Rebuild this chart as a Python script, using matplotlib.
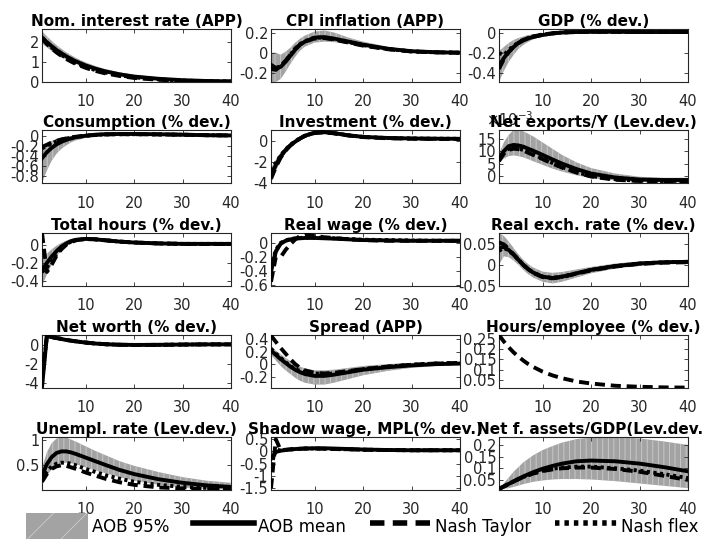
import numpy as np
import matplotlib
matplotlib.use("Agg")
import matplotlib.pyplot as plt
from matplotlib.patches import Patch
from matplotlib.lines import Line2D

plt.rcParams["font.family"] = ["DejaVu Sans"]
plt.rcParams["axes.unicode_minus"] = False
plt.rcParams["hatch.linewidth"] = 0.6

H = [1, 2, 3, 4, 5, 6, 7, 8, 10, 12, 14, 17, 20, 25, 30, 35, 40]

NOM_MEAN = [2.20, 1.97, 1.77, 1.58, 1.42, 1.27, 1.14, 1.02, 0.82, 0.66, 0.53, 0.38, 0.27, 0.16, 0.09, 0.05, 0.03]
NOM_HI = [2.51, 2.26, 2.03, 1.82, 1.64, 1.47, 1.33, 1.19, 0.97, 0.79, 0.64, 0.48, 0.35, 0.23, 0.15, 0.11, 0.08]
NOM_LO = [1.91, 1.71, 1.54, 1.37, 1.24, 1.10, 0.99, 0.89, 0.71, 0.57, 0.46, 0.33, 0.23, 0.14, 0.08, 0.04, 0.02]
NOM_TAYLOR = [2.15, 1.88, 1.66, 1.46, 1.29, 1.14, 1.01, 0.89, 0.70, 0.55, 0.43, 0.30, 0.20, 0.11, 0.05, 0.03, 0.02]
NOM_FLEX = [2.18, 1.92, 1.70, 1.51, 1.34, 1.19, 1.06, 0.94, 0.74, 0.59, 0.47, 0.33, 0.23, 0.13, 0.07, 0.04, 0.02]

CPI_MEAN = [-0.12, -0.15, -0.14, -0.09, -0.03, 0.03, 0.08, 0.11, 0.15, 0.155, 0.14, 0.11, 0.08, 0.04, 0.015, 0.005, 0.0]
CPI_HI = [0.0, 0.0, -0.02, 0.01, 0.05, 0.10, 0.14, 0.17, 0.21, 0.22, 0.20, 0.15, 0.11, 0.06, 0.025, 0.01, 0.005]
CPI_LO = [-0.29, -0.29, -0.26, -0.19, -0.11, -0.04, 0.02, 0.06, 0.10, 0.11, 0.105, 0.085, 0.06, 0.03, 0.01, 0.0, -0.005]
CPI_TAYLOR = [-0.16, -0.17, -0.13, -0.08, -0.02, 0.04, 0.08, 0.11, 0.14, 0.145, 0.13, 0.10, 0.07, 0.035, 0.012, 0.004, 0.0]
CPI_FLEX = [-0.14, -0.16, -0.13, -0.08, -0.02, 0.04, 0.085, 0.115, 0.15, 0.15, 0.135, 0.105, 0.075, 0.037, 0.013, 0.004, 0.0]

GDP_MEAN = [-0.33, -0.25, -0.19, -0.14, -0.10, -0.075, -0.055, -0.04, -0.02, -0.005, 0.005, 0.01, 0.012, 0.012, 0.01, 0.01, 0.01]
GDP_HI = [-0.18, -0.14, -0.10, -0.07, -0.05, -0.035, -0.02, -0.015, -0.005, 0.005, 0.012, 0.018, 0.02, 0.02, 0.018, 0.017, 0.017]
GDP_LO = [-0.49, -0.38, -0.29, -0.22, -0.16, -0.12, -0.09, -0.065, -0.035, -0.015, -0.003, 0.003, 0.005, 0.005, 0.004, 0.003, 0.003]
GDP_TAYLOR = [-0.36, -0.26, -0.19, -0.14, -0.10, -0.07, -0.05, -0.035, -0.015, -0.003, 0.006, 0.01, 0.012, 0.012, 0.01, 0.01, 0.01]
GDP_FLEX = [-0.20, -0.22, -0.17, -0.13, -0.095, -0.07, -0.05, -0.037, -0.017, -0.004, 0.005, 0.01, 0.012, 0.012, 0.01, 0.01, 0.01]

CONS_MEAN = [-0.45, -0.33, -0.24, -0.17, -0.12, -0.08, -0.05, -0.025, 0.005, 0.025, 0.035, 0.04, 0.04, 0.035, 0.025, 0.015, 0.01]
CONS_HI = [-0.20, -0.14, -0.10, -0.06, -0.035, -0.015, 0.0, 0.01, 0.03, 0.045, 0.055, 0.06, 0.06, 0.055, 0.045, 0.035, 0.03]
CONS_LO = [-0.95, -0.70, -0.50, -0.36, -0.26, -0.19, -0.13, -0.09, -0.04, -0.01, 0.005, 0.015, 0.015, 0.015, 0.01, 0.0, -0.005]
CONS_TAYLOR = [-0.22, -0.18, -0.13, -0.10, -0.07, -0.05, -0.03, -0.015, 0.005, 0.02, 0.03, 0.035, 0.035, 0.03, 0.025, 0.015, 0.01]
CONS_FLEX = [-0.25, -0.20, -0.15, -0.11, -0.08, -0.055, -0.035, -0.02, 0.002, 0.02, 0.03, 0.035, 0.035, 0.03, 0.025, 0.015, 0.01]

INV_MEAN = [-3.3, -2.3, -1.5, -0.9, -0.45, -0.1, 0.2, 0.45, 0.75, 0.8, 0.7, 0.5, 0.35, 0.25, 0.2, 0.18, 0.17]
INV_HI = [-2.6, -1.8, -1.1, -0.6, -0.2, 0.1, 0.4, 0.65, 0.95, 1.0, 0.88, 0.65, 0.48, 0.35, 0.3, 0.27, 0.26]
INV_LO = [-4.0, -2.9, -1.9, -1.2, -0.7, -0.3, 0.0, 0.25, 0.55, 0.6, 0.55, 0.38, 0.25, 0.16, 0.12, 0.1, 0.1]
INV_TAYLOR = [-3.6, -2.5, -1.6, -0.95, -0.45, -0.1, 0.2, 0.45, 0.72, 0.78, 0.68, 0.48, 0.33, 0.22, 0.18, 0.16, 0.15]
INV_FLEX = [-2.8, -2.1, -1.4, -0.85, -0.4, -0.05, 0.22, 0.46, 0.74, 0.8, 0.7, 0.5, 0.35, 0.24, 0.2, 0.18, 0.17]

# net exports in units of 1e-3
NX_MEAN = [7, 10, 12, 12.5, 12.3, 11.8, 11, 10.2, 8.5, 6.7, 5, 2.8, 1.0, -0.6, -1.4, -1.6, -1.6]
NX_HI = [9, 13.5, 16.5, 18.5, 18.5, 18, 17, 16, 13.5, 11, 8.5, 5.5, 3.2, 1, -0.3, -0.7, -0.7]
NX_LO = [5.5, 7, 8, 8.3, 8, 7.5, 6.8, 6, 4.5, 3, 1.8, 0.3, -0.8, -1.8, -2.3, -2.5, -2.6]
NX_TAYLOR = [6, 9, 10.5, 11, 10.8, 10.2, 9.4, 8.5, 6.8, 5, 3.4, 1.4, -0.2, -1.5, -2.0, -2.1, -2.0]
NX_FLEX = [6.5, 9.5, 11, 11.3, 11, 10.5, 9.7, 8.8, 7, 5.3, 3.6, 1.6, 0, -1.3, -1.9, -2.0, -1.9]

HRS_MEAN = [-0.28, -0.20, -0.13, -0.07, -0.02, 0.015, 0.04, 0.055, 0.065, 0.06, 0.05, 0.035, 0.025, 0.015, 0.01, 0.01, 0.01]
HRS_HI = [-0.15, -0.10, -0.05, -0.01, 0.02, 0.045, 0.065, 0.075, 0.08, 0.075, 0.065, 0.05, 0.035, 0.025, 0.018, 0.016, 0.016]
HRS_LO = [-0.455, -0.33, -0.22, -0.13, -0.06, -0.015, 0.015, 0.035, 0.05, 0.05, 0.04, 0.025, 0.015, 0.008, 0.004, 0.003, 0.003]
HRS_TAYLOR = [0.13, -0.30, -0.22, -0.12, -0.05, 0.0, 0.03, 0.05, 0.065, 0.06, 0.05, 0.035, 0.025, 0.015, 0.01, 0.008, 0.008]
HRS_FLEX = [-0.30, -0.25, -0.17, -0.10, -0.04, 0.005, 0.035, 0.05, 0.063, 0.06, 0.05, 0.035, 0.025, 0.015, 0.01, 0.01, 0.01]

RW_MEAN = [-0.40, -0.12, -0.01, 0.03, 0.05, 0.06, 0.065, 0.07, 0.07, 0.065, 0.06, 0.05, 0.04, 0.035, 0.03, 0.03, 0.03]
RW_HI = [-0.25, -0.05, 0.02, 0.05, 0.07, 0.08, 0.085, 0.09, 0.09, 0.085, 0.08, 0.065, 0.055, 0.045, 0.04, 0.04, 0.04]
RW_LO = [-0.61, -0.20, -0.05, 0.0, 0.02, 0.035, 0.045, 0.05, 0.05, 0.05, 0.045, 0.035, 0.03, 0.025, 0.02, 0.02, 0.02]
RW_TAYLOR = [-0.55, -0.20, -0.20, -0.10, -0.02, 0.05, 0.10, 0.12, 0.10, 0.08, 0.07, 0.05, 0.04, 0.03, 0.03, 0.03, 0.03]
RW_FLEX = [-0.35, -0.10, 0.0, 0.035, 0.055, 0.065, 0.07, 0.075, 0.075, 0.07, 0.065, 0.055, 0.045, 0.04, 0.035, 0.03, 0.03]

RER_MEAN = [0.04, 0.042, 0.035, 0.024, 0.012, 0.0, -0.01, -0.018, -0.028, -0.031, -0.028, -0.02, -0.012, -0.003, 0.003, 0.006, 0.007]
RER_HI = [0.075, 0.068, 0.055, 0.04, 0.025, 0.012, 0.002, -0.006, -0.016, -0.019, -0.017, -0.011, -0.005, 0.003, 0.008, 0.01, 0.011]
RER_LO = [0.0, 0.02, 0.018, 0.01, 0.0, -0.012, -0.022, -0.03, -0.04, -0.044, -0.04, -0.03, -0.02, -0.009, -0.002, 0.002, 0.003]
RER_TAYLOR = [0.053, 0.048, 0.038, 0.025, 0.012, 0.0, -0.01, -0.019, -0.029, -0.032, -0.029, -0.021, -0.013, -0.004, 0.002, 0.005, 0.006]
RER_FLEX = [0.033, 0.04, 0.034, 0.024, 0.012, 0.0, -0.01, -0.018, -0.028, -0.031, -0.028, -0.02, -0.012, -0.003, 0.003, 0.006, 0.007]

NW_MEAN = [-4.5, 0.95, 0.85, 0.75, 0.65, 0.55, 0.47, 0.40, 0.27, 0.17, 0.10, 0.04, 0.02, 0.03, 0.06, 0.08, 0.08]
NW_HI = [-4.3, 1.05, 0.95, 0.85, 0.75, 0.65, 0.57, 0.50, 0.37, 0.27, 0.20, 0.14, 0.12, 0.13, 0.16, 0.18, 0.18]
NW_LO = [-4.57, 0.85, 0.75, 0.65, 0.55, 0.45, 0.37, 0.30, 0.17, 0.07, 0.0, -0.06, -0.08, -0.07, -0.04, -0.02, -0.02]
NW_TAYLOR = [-3.5, 1.0, 0.88, 0.77, 0.67, 0.57, 0.48, 0.41, 0.28, 0.18, 0.10, 0.04, 0.02, 0.03, 0.06, 0.08, 0.08]
NW_FLEX = [-4.0, 0.97, 0.86, 0.76, 0.66, 0.56, 0.47, 0.40, 0.27, 0.17, 0.10, 0.04, 0.02, 0.03, 0.06, 0.08, 0.08]

SPR_MEAN = [0.22, 0.15, 0.08, 0.02, -0.04, -0.09, -0.13, -0.16, -0.19, -0.19, -0.17, -0.13, -0.09, -0.05, -0.02, 0.0, 0.01]
SPR_HI = [0.28, 0.22, 0.16, 0.10, 0.05, 0.0, -0.04, -0.07, -0.10, -0.10, -0.09, -0.06, -0.03, 0.0, 0.02, 0.03, 0.035]
SPR_LO = [0.15, 0.06, -0.03, -0.10, -0.16, -0.22, -0.27, -0.30, -0.33, -0.33, -0.30, -0.24, -0.18, -0.11, -0.06, -0.03, -0.02]
SPR_TAYLOR = [0.46, 0.36, 0.26, 0.17, 0.08, 0.0, -0.06, -0.10, -0.14, -0.15, -0.14, -0.11, -0.08, -0.04, -0.01, 0.01, 0.02]
SPR_FLEX = [0.25, 0.17, 0.10, 0.03, -0.03, -0.08, -0.11, -0.13, -0.15, -0.16, -0.15, -0.12, -0.08, -0.04, -0.01, 0.01, 0.02]

# hours per employee: only the Nash Taylor model has it
HPE_TAYLOR = [0.27, 0.238, 0.21, 0.185, 0.164, 0.145, 0.128, 0.114, 0.09, 0.072, 0.058, 0.042, 0.032, 0.021, 0.016, 0.013, 0.012]

UR_MEAN = [0.30, 0.52, 0.66, 0.74, 0.77, 0.77, 0.75, 0.72, 0.65, 0.58, 0.51, 0.41, 0.33, 0.23, 0.16, 0.11, 0.08]
UR_HI = [0.45, 0.75, 0.93, 1.02, 1.05, 1.04, 1.0, 0.96, 0.87, 0.78, 0.70, 0.58, 0.49, 0.37, 0.27, 0.20, 0.16]
UR_LO = [0.15, 0.30, 0.42, 0.50, 0.54, 0.55, 0.54, 0.52, 0.46, 0.40, 0.35, 0.27, 0.20, 0.12, 0.07, 0.04, 0.03]
UR_TAYLOR = [0.18, 0.33, 0.43, 0.48, 0.50, 0.49, 0.46, 0.43, 0.36, 0.30, 0.24, 0.17, 0.12, 0.07, 0.05, 0.04, 0.03]
UR_FLEX = [0.22, 0.38, 0.48, 0.53, 0.55, 0.55, 0.53, 0.50, 0.43, 0.37, 0.31, 0.24, 0.18, 0.12, 0.08, 0.06, 0.05]

SW_MEAN = [-0.30, -0.02, 0.03, 0.06, 0.08, 0.10, 0.11, 0.12, 0.13, 0.13, 0.12, 0.10, 0.08, 0.06, 0.05, 0.05, 0.05]
SW_HI = [-0.20, 0.01, 0.06, 0.09, 0.11, 0.13, 0.14, 0.15, 0.16, 0.16, 0.15, 0.12, 0.10, 0.08, 0.07, 0.06, 0.06]
SW_LO = [-0.40, -0.05, 0.0, 0.03, 0.05, 0.07, 0.08, 0.09, 0.10, 0.10, 0.09, 0.08, 0.06, 0.05, 0.04, 0.04, 0.04]
SW_TAYLOR = [-1.5, 0.5, 0.05, 0.07, 0.09, 0.10, 0.11, 0.12, 0.12, 0.11, 0.10, 0.09, 0.07, 0.06, 0.05, 0.05, 0.05]
SW_FLEX = [-0.6, 0.1, 0.03, 0.06, 0.08, 0.10, 0.11, 0.12, 0.12, 0.11, 0.10, 0.09, 0.07, 0.06, 0.05, 0.05, 0.05]

NFA_MEAN = [0.012, 0.022, 0.033, 0.044, 0.055, 0.065, 0.074, 0.083, 0.098, 0.11, 0.12, 0.13, 0.133, 0.13, 0.12, 0.105, 0.087]
NFA_HI = [0.015, 0.035, 0.06, 0.085, 0.105, 0.125, 0.14, 0.155, 0.178, 0.195, 0.21, 0.225, 0.232, 0.234, 0.228, 0.215, 0.20]
NFA_LO = [0.01, 0.012, 0.015, 0.02, 0.026, 0.032, 0.037, 0.042, 0.048, 0.052, 0.054, 0.054, 0.052, 0.045, 0.035, 0.025, 0.015]
NFA_TAYLOR = [0.012, 0.022, 0.033, 0.043, 0.053, 0.062, 0.07, 0.077, 0.088, 0.095, 0.10, 0.103, 0.103, 0.097, 0.085, 0.068, 0.05]
NFA_FLEX = [0.012, 0.022, 0.033, 0.043, 0.053, 0.062, 0.07, 0.078, 0.09, 0.098, 0.103, 0.107, 0.107, 0.10, 0.09, 0.075, 0.058]

TITLES = [
    "Nom. interest rate (APP)", "CPI inflation (APP)", "GDP (% dev.)",
    "Consumption (% dev.)", "Investment (% dev.)", "Net exports/Y (Lev.dev.)",
    "Total hours (% dev.)", "Real wage (% dev.)", "Real exch. rate (% dev.)",
    "Net worth (% dev.)", "Spread (APP)", "Hours/employee (% dev.)",
    "Unempl. rate (Lev.dev.)", "Shadow wage, MPL(% dev.)", "Net f. assets/GDP(Lev.dev.)",
]

# (lo, hi, mean, taylor, flex) per panel, in reading order
SERIES = [
    (NOM_LO, NOM_HI, NOM_MEAN, NOM_TAYLOR, NOM_FLEX),
    (CPI_LO, CPI_HI, CPI_MEAN, CPI_TAYLOR, CPI_FLEX),
    (GDP_LO, GDP_HI, GDP_MEAN, GDP_TAYLOR, GDP_FLEX),
    (CONS_LO, CONS_HI, CONS_MEAN, CONS_TAYLOR, CONS_FLEX),
    (INV_LO, INV_HI, INV_MEAN, INV_TAYLOR, INV_FLEX),
    (NX_LO, NX_HI, NX_MEAN, NX_TAYLOR, NX_FLEX),
    (HRS_LO, HRS_HI, HRS_MEAN, HRS_TAYLOR, HRS_FLEX),
    (RW_LO, RW_HI, RW_MEAN, RW_TAYLOR, RW_FLEX),
    (RER_LO, RER_HI, RER_MEAN, RER_TAYLOR, RER_FLEX),
    (NW_LO, NW_HI, NW_MEAN, NW_TAYLOR, NW_FLEX),
    (SPR_LO, SPR_HI, SPR_MEAN, SPR_TAYLOR, SPR_FLEX),
    (None, None, None, HPE_TAYLOR, None),
    (UR_LO, UR_HI, UR_MEAN, UR_TAYLOR, UR_FLEX),
    (SW_LO, SW_HI, SW_MEAN, SW_TAYLOR, SW_FLEX),
    (NFA_LO, NFA_HI, NFA_MEAN, NFA_TAYLOR, NFA_FLEX),
]

YLIMS = [
    (0, 2.62), (-0.29, 0.235), (-0.49, 0.04),
    (-0.95, 0.12), (-4.0, 1.0), (-2.8, 18.5),
    (-0.455, 0.13), (-0.61, 0.14), (-0.047, 0.075),
    (-4.57, 1.08), (-0.385, 0.47), (0.01, 0.27),
    (0.02, 1.05), (-1.57, 0.59), (0.007, 0.234),
]

YTICKS = [
    [0, 1, 2], [-0.2, 0, 0.2], [-0.4, -0.2, 0],
    [-0.8, -0.6, -0.4, -0.2, 0], [-4, -2, 0], [0, 5, 10, 15],
    [-0.4, -0.2, 0], [-0.6, -0.4, -0.2, 0], [-0.05, 0, 0.05],
    [-4, -2, 0], [-0.2, 0, 0.2, 0.4], [0.05, 0.1, 0.15, 0.2, 0.25],
    [0.5, 1], [-1.5, -1, -0.5, 0, 0.5], [0.05, 0.1, 0.15, 0.2],
]

W, HGT = 702, 539
COL_LEFT = [42, 271, 499]
ROW_TOP = [29, 130, 233, 335, 437]
AX_W, AX_H = 189, 53
INK = "#262626"
BAND = "#a3a3a3"
DASH = (0, (2.6, 1.5))
DOT = (0, (0.8, 0.9))

fig = plt.figure(figsize=(W / 100, HGT / 100), dpi=100)

for k, (title, series, ylim, yt) in enumerate(zip(TITLES, SERIES, YLIMS, YTICKS)):
    r, c = divmod(k, 3)
    left = COL_LEFT[c] / W
    bottom = 1 - (ROW_TOP[r] + AX_H) / HGT
    ax = fig.add_axes([left, bottom, AX_W / W, AX_H / HGT])
    lo, hi, mean, taylor, flex = series
    if lo is not None:
        ax.fill_between(H, lo, hi, facecolor=BAND, edgecolor="#cdcdcd",
                        hatch="|||", linewidth=0, zorder=1)
        ax.plot(H, mean, color="black", lw=2.8, zorder=3)
    if taylor is not None:
        ax.plot(H, taylor, color="black", lw=2.8, ls=DASH, zorder=4)
    if flex is not None:
        ax.plot(H, flex, color="black", lw=2.8, ls=DOT, zorder=4)

    ax.set_xlim(1, 40)
    ax.set_ylim(*ylim)
    ax.set_xticks([10, 20, 30, 40])
    ax.set_yticks(yt)
    ax.set_yticklabels([f"{v:g}" for v in yt])
    ax.tick_params(direction="in", length=3, width=0.6, colors=INK,
                   labelsize=10.5, top=True, right=True)
    ax.tick_params(axis="x", pad=9)
    ax.tick_params(axis="y", pad=2)
    for sp in ax.spines.values():
        sp.set_color(INK)
        sp.set_linewidth(0.8)
    ax.set_title(title, fontsize=11, fontweight="bold", pad=2)
    if k == 5:
        ax.text(-0.07, 1.02, r"$\times10^{-3}$", transform=ax.transAxes,
                fontsize=10.5, color=INK, va="bottom", ha="left")

handles = [
    Patch(facecolor=BAND, edgecolor="#cdcdcd", hatch="/", linewidth=0),
    Line2D([], [], color="black", lw=4),
    Line2D([], [], color="black", lw=4, ls=DASH),
    Line2D([], [], color="black", lw=4, ls=DOT),
]
labels = ["AOB 95%", "AOB mean", "Nash Taylor", "Nash flex"]
fig.legend(handles, labels, loc="lower center", bbox_to_anchor=(0.516, -0.03),
           ncol=4, frameon=False, fontsize=12, handlelength=3.7,
           handleheight=2.1, columnspacing=1.4, handletextpad=0.25)

fig.savefig("out.png", dpi=100)
